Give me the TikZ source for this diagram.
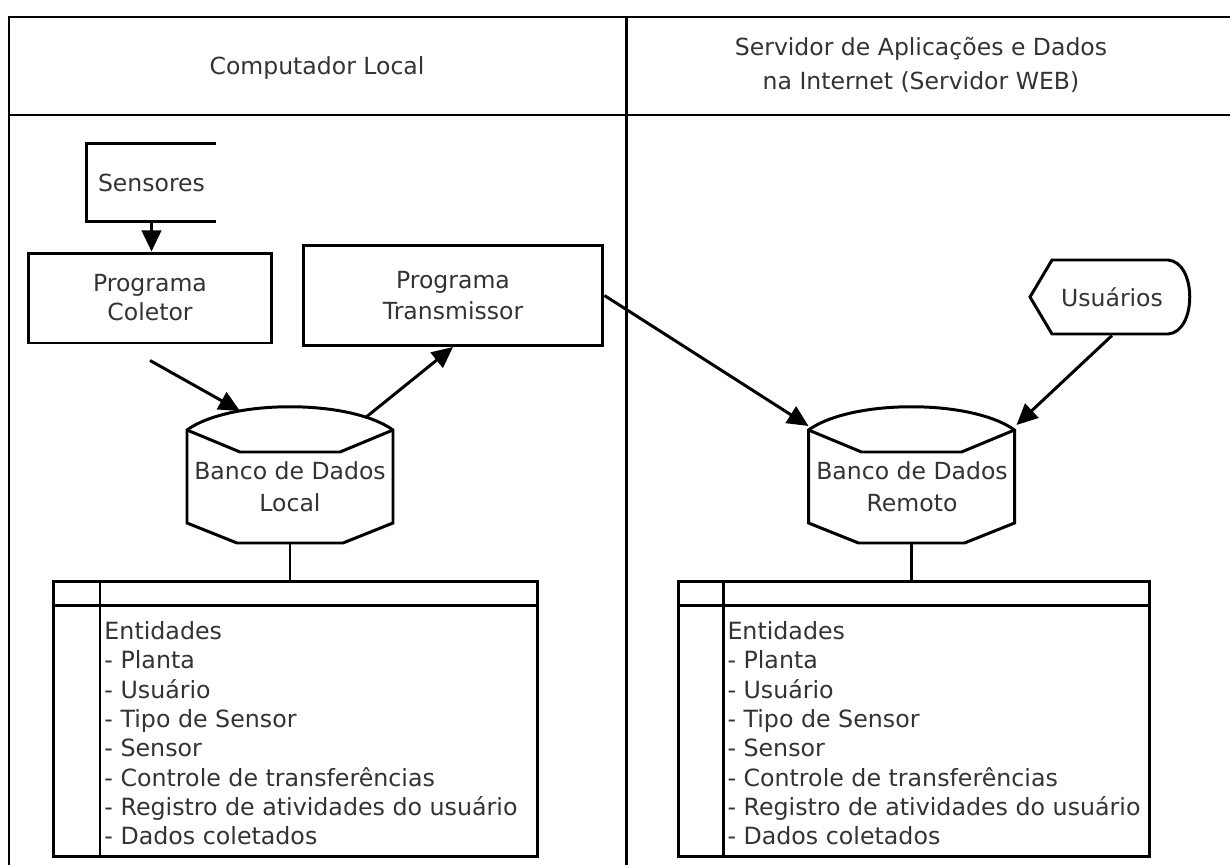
\documentclass[tikz,border=0pt]{standalone}
\usepackage{fontspec}
\setmainfont{DejaVu Sans}
\usetikzlibrary{arrows.meta,positioning}

\begin{document}
\begin{tikzpicture}[x=0.02cm, y=-0.02cm, line width=1.7pt,
    every node/.style={text=black!80, font=\fontsize{13.4}{17.5}\selectfont, align=center},
    prog/.style={draw, minimum width=#1, minimum height=1.8cm},
    tabela/.style={draw, minimum width=#1, minimum height=5.52cm},
    lista/.style={anchor=north west, align=left, inner sep=0pt, font=\fontsize{13.5}{16.7}\selectfont},
    arr/.style={-{Triangle[length=12pt,width=11pt]}}]
    \useasboundingbox (0,0) rectangle (1230,865);

    % moldura e cabecalhos
    \draw (1230,17) -- (9,17) -- (9,865);
    \draw (9,115) -- (1230,115);
    \draw (626,17) -- (626,865);
    \node (hloc) at (317,68) {Computador Local};
    \node[font=\fontsize{13.4}{19.3}\selectfont] (hweb) at (921,65) {Servidor de Aplica\c{c}\~oes e Dados\\na Internet (Servidor WEB)};

    % computador local
    \node[minimum width=2.54cm, minimum height=1.5cm] (sens) at (151.5,182.5) {Sensores};
    \draw (sens.north east) -- (sens.north west) -- (sens.south west) -- (sens.south east);
    \node[prog=4.88cm, font=\fontsize{13.4}{16.5}\selectfont] (colet) at (150,298) {Programa\\Coletor};
    \node[prog=6cm, minimum height=2cm] (trans) at (453,295.5) {Programa\\Transmissor};

    \begin{scope}[shift={(290,475)}]
        \draw (-103,-45) .. controls (-60,-76) and (60,-76) .. (103,-45) -- (103,48) -- (53,68) -- (-53,68) -- (-103,48) -- cycle;
        \draw (-103,-45) -- (-50,-23) -- (50,-23) -- (103,-45);
        \coordinate (dbl-in) at (-50,-64);
        \coordinate (dbl-out) at (75,-57);
        \coordinate (dbl-b) at (0,68);
    \end{scope}
    \node[font=\fontsize{13.4}{18.2}\selectfont] (dbl) at (290,487) {Banco de Dados\\Local};

    \node[tabela=9.7cm] (tabl) at (295.5,719) {};
    \draw (53,605) -- (538,605);
    \draw (100,581) -- (100,857);
    \node[lista] (entl) at (103,620) {Entidades\\- Planta\\- Usu\'ario\\- Tipo de Sensor\\- Sensor\\- Controle de transfer\^encias\\- Registro de atividades do usu\'ario\\- Dados coletados};

    \draw[arr] (sens.south) -- (sens.south |- colet.north);
    \draw[arr] ([yshift=-0.32cm]colet.south) -- (dbl-in);
    \draw[arr] (dbl-out) -- (trans.south);
    \draw (dbl-b) -- (dbl-b |- tabl.north);

    % servidor web
    \node[minimum width=3.2cm, minimum height=1.48cm] (usr) at (1112,297) {Usu\'arios};
    \draw (1030,297) -- (1052,260) -- (1168,260) .. controls (1197,262) and (1197,332) .. (1168,334) -- (1052,334) -- cycle;

    \begin{scope}[shift={(911.5,475)}]
        \draw (-103,-45) .. controls (-60,-76) and (60,-76) .. (103,-45) -- (103,48) -- (53,68) -- (-53,68) -- (-103,48) -- cycle;
        \draw (-103,-45) -- (-50,-23) -- (50,-23) -- (103,-45);
        \coordinate (dbr-w) at (-103,-49);
        \coordinate (dbr-e) at (105,-50);
        \coordinate (dbr-b) at (0,68);
    \end{scope}
    \node[font=\fontsize{13.4}{18.2}\selectfont] (dbr) at (912,487) {Banco de Dados\\Remoto};

    \node[tabela=9.44cm] (tabr) at (914,719) {};
    \draw (678,605) -- (1150,605);
    \draw (723,581) -- (723,857);
    \node[lista] (entr) at (726,620) {Entidades\\- Planta\\- Usu\'ario\\- Tipo de Sensor\\- Sensor\\- Controle de transfer\^encias\\- Registro de atividades do usu\'ario\\- Dados coletados};

    \draw[arr] (trans.east) -- (dbr-w);
    \draw[arr] (usr.south) -- (dbr-e);
    \draw (dbr-b) -- (dbr-b |- tabr.north);
\end{tikzpicture}
\end{document}
